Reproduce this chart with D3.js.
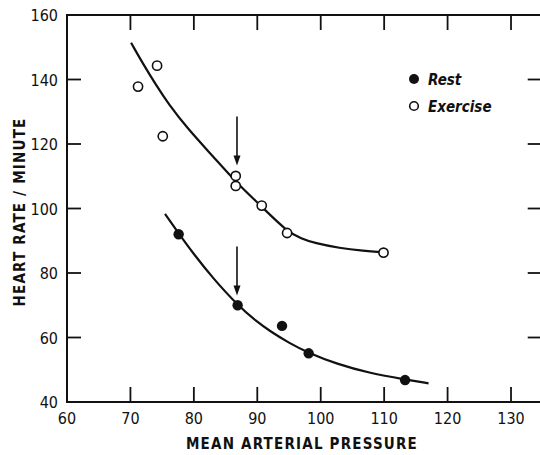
<!DOCTYPE html>
<html>
<head>
<meta charset="utf-8">
<script src="https://cdn.jsdelivr.net/npm/d3@7"></script>
<style>
  html, body { margin: 0; padding: 0; background: #fff; }
  svg { display: block; }
  .lbl { font-family: "DejaVu Sans Condensed", "Liberation Sans Narrow", "DejaVu Sans", sans-serif; fill: #111; }
</style>
</head>
<body>
<svg id="chart" width="540" height="455"></svg>
<script>
// Heart rate vs. mean arterial pressure, rest and exercise
const restPoints = [
  { map: 77.6, hr: 92.0 },
  { map: 86.9, hr: 70.0 },
  { map: 93.9, hr: 63.6 },
  { map: 98.1, hr: 55.1 },
  { map: 113.3, hr: 46.8 }
];
const exercisePoints = [
  { map: 71.2, hr: 137.8 },
  { map: 74.2, hr: 144.3 },
  { map: 75.1, hr: 122.4 },
  { map: 86.6, hr: 110.1 },
  { map: 86.6, hr: 107.0 },
  { map: 90.7, hr: 100.9 },
  { map: 94.7, hr: 92.4 },
  { map: 109.9, hr: 86.3 }
];
// Smoothed trend curves drawn through each group
const restCurve = [
  [75.45, 98.3], [77.6, 92.3], [80, 85.8], [83, 78.4], [86.85, 70.1],
  [89.9, 64.9], [92, 62.0], [95, 58.3], [98, 55.3], [102.5, 51.8],
  [107.8, 48.9], [113.3, 47.0], [117, 45.8]
];
const exerciseCurve = [
  [70.1, 151.4], [72, 144.8], [74, 138.4], [76, 132.4], [79, 124.8],
  [83, 116.2], [86.7, 108.0], [90.7, 100.6], [94.6, 93.0], [97, 90.6],
  [99, 89.3], [103, 87.7], [106.7, 86.9], [110, 86.4]
];
// Arrows marking the reference pressure (top value, tip value)
const arrows = [
  { map: 86.8, from: 128.5, to: 113.3 },
  { map: 86.8, from: 88.2, to: 73.0 }
];
const xTicks = [60, 70, 80, 90, 100, 110, 120, 130];
const yTicks = [40, 60, 80, 100, 120, 140, 160];
const xInnerTicks = [70, 80, 90, 100, 110, 120, 130];
const yInnerTicks = [60, 80, 100, 120, 140];
const legendItems = [
  { label: "Rest", filled: true },
  { label: "Exercise", filled: false }
];

const svg = d3.select("#chart");
const x = d3.scaleLinear().domain([60, 135]).range([67, 67 + 75 * 6.343]);
const y = d3.scaleLinear().domain([40, 160]).range([402, 15]);
const ink = "#111";

// Frame
const x0 = x(60), x1 = x(135), yb = y(40), yt = y(160);
svg.append("path")
  .attr("d", `M${x1},${yt}H${x0}V${yb}H${x1}`)
  .attr("fill", "none").attr("stroke", ink).attr("stroke-width", 2);
svg.append("line").attr("x1", x1).attr("x2", x1).attr("y1", yt).attr("y2", yb)
  .attr("stroke", ink).attr("stroke-width", 2);

// Inward ticks on all four sides
const tickLen = 15;
const tg = svg.append("g").attr("stroke", ink).attr("stroke-width", 1.8);
xInnerTicks.forEach(v => {
  tg.append("line").attr("x1", x(v)).attr("x2", x(v)).attr("y1", yb).attr("y2", yb - tickLen);
  tg.append("line").attr("x1", x(v)).attr("x2", x(v)).attr("y1", yt).attr("y2", yt + tickLen);
});
yInnerTicks.forEach(v => {
  tg.append("line").attr("x1", x0).attr("x2", x0 + 14).attr("y1", y(v)).attr("y2", y(v));
  tg.append("line").attr("x1", x1).attr("x2", x1 - tickLen).attr("y1", y(v)).attr("y2", y(v));
});

// Tick labels
svg.append("g").selectAll("text").data(xTicks).join("text")
  .attr("class", "lbl")
  .attr("x", d => x(d)).attr("y", 424)
  .attr("text-anchor", "middle")
  .attr("font-size", 16)
  .text(d => d);
svg.append("g").selectAll("text").data(yTicks).join("text")
  .attr("class", "lbl")
  .attr("x", 58).attr("y", d => y(d) + 6)
  .attr("text-anchor", "end")
  .attr("font-size", 16)
  .text(d => d);

// Axis titles
svg.append("text").attr("class", "lbl")
  .attr("x", 302).attr("y", 449)
  .attr("text-anchor", "middle").attr("font-size", 15).attr("font-weight", "bold")
  .attr("letter-spacing", 1.2)
  .text("MEAN ARTERIAL PRESSURE");
svg.append("text").attr("class", "lbl")
  .attr("transform", "translate(25,212) rotate(-90)")
  .attr("text-anchor", "middle").attr("font-size", 15).attr("font-weight", "bold")
  .attr("letter-spacing", 1.2)
  .text("HEART RATE / MINUTE");

// Curves
const line = d3.line().x(d => x(d[0])).y(d => y(d[1])).curve(d3.curveBasis);
[restCurve, exerciseCurve].forEach(c => {
  svg.append("path").attr("d", line(c))
    .attr("fill", "none").attr("stroke", ink).attr("stroke-width", 2.2);
});

// Arrows
const ag = svg.append("g");
arrows.forEach(a => {
  ag.append("line").attr("x1", x(a.map)).attr("x2", x(a.map))
    .attr("y1", y(a.from)).attr("y2", y(a.to) - 4)
    .attr("stroke", ink).attr("stroke-width", 1.6);
  const tx = x(a.map), ty = y(a.to);
  ag.append("path").attr("d", `M${tx - 3.5},${ty - 10}L${tx},${ty}L${tx + 3.5},${ty - 10}Z`)
    .attr("fill", ink);
});

// Points
svg.append("g").selectAll("circle").data(exercisePoints).join("circle")
  .attr("cx", d => x(d.map)).attr("cy", d => y(d.hr)).attr("r", 4.6)
  .attr("fill", "#fff").attr("stroke", ink).attr("stroke-width", 1.6);
svg.append("g").selectAll("circle").data(restPoints).join("circle")
  .attr("cx", d => x(d.map)).attr("cy", d => y(d.hr)).attr("r", 5.2)
  .attr("fill", ink);

// Legend
const lg = svg.append("g").attr("transform", "translate(414,79)");
legendItems.forEach((d, i) => {
  const g = lg.append("g").attr("transform", `translate(0,${i * 27})`);
  g.append("circle").attr("r", d.filled ? 5 : 4.3)
    .attr("fill", d.filled ? ink : "#fff").attr("stroke", ink).attr("stroke-width", d.filled ? 0 : 1.6);
  g.append("text").attr("class", "lbl")
    .attr("x", 14).attr("y", 6)
    .attr("font-size", 15).attr("font-style", "italic").attr("font-weight", "bold")
    .text(d.label);
});
</script>
</body>
</html>
